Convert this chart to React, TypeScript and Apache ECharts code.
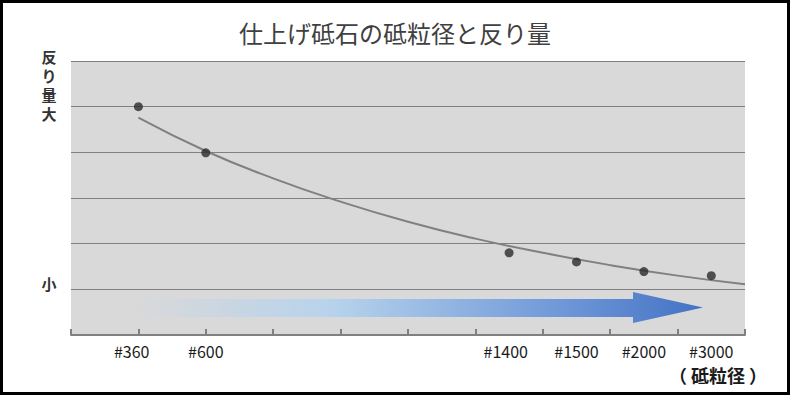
import React, { useEffect, useRef } from "react";
import * as echarts from "echarts";

const titleText = "仕上げ砥石の砥粒径と反り量";
const gritLabels = ["#360", "#600", "#1400", "#1500", "#2000", "#3000"];
const gritLabelPos = [0.9, 2, 6.45, 7.5, 8.5, 9.5];
const pointX = [1, 2, 6.5, 7.5, 8.5, 9.5];
const pointY = [5.0, 3.99, 1.8, 1.6, 1.39, 1.3];
const trendX = [1, 2, 3, 4, 5, 6, 7, 8, 9, 10];
const trendY = [4.76, 4.03, 3.43, 2.92, 2.48, 2.11, 1.8, 1.53, 1.3, 1.11];
const yHighChars = ["反", "り", "量", "大"];
const yLowLabel = "小";
const xAxisName = "（ 砥粒径 ）";

const FONT = "'Noto Sans CJK JP', 'Noto Sans', sans-serif";

export default function App() {
  const ref = useRef<HTMLDivElement>(null);
  useEffect(() => {
    document.body.style.margin = "0";
    const chart = echarts.init(ref.current!, null, { renderer: "svg" });
    const scatterData = pointX.map((x, i) => [x, pointY[i]]);
    const trendData = trendX.map((x, i) => [x, trendY[i]]);
    const charY = [56, 75, 94, 113];
    const leftTexts = yHighChars.map((c, i) => ({
      type: "text",
      x: 49,
      y: charY[i],
      style: {
        text: c,
        fontSize: 15,
        lineHeight: 16,
        fontWeight: "bold",
        fill: "#333333",
        align: "center",
        verticalAlign: "middle",
        fontFamily: FONT,
      },
    }));
    chart.setOption({
      animation: false,
      backgroundColor: "#ffffff",
      textStyle: { fontFamily: FONT },
      title: {
        text: titleText,
        left: "center",
        top: 15,
        textStyle: { fontSize: 24, fontWeight: "normal", color: "#404040", fontFamily: FONT },
      },
      grid: {
        left: 71,
        top: 61,
        width: 674,
        height: 274,
        show: true,
        backgroundColor: "#d9d9d9",
        borderWidth: 0,
      },
      xAxis: [
        {
          type: "value",
          min: 0,
          max: 10,
          interval: 1,
          axisLine: { show: true, lineStyle: { color: "#808080", width: 2 } },
          axisTick: { show: true, inside: true, length: 6, lineStyle: { color: "#808080", width: 2 } },
          axisLabel: { show: false },
          splitLine: { show: false },
        },
        {
          type: "value",
          position: "bottom",
          min: 0,
          max: 10,
          interval: 0.05,
          axisLine: { show: false },
          axisTick: { show: false },
          splitLine: { show: false },
          axisLabel: {
            show: true,
            interval: 0,
            margin: 8,
            fontSize: 16,
            color: "#1a1a1a",
            fontFamily: FONT,
            formatter: (v: number) => {
              const i = gritLabelPos.findIndex((p) => Math.abs(p - v) < 1e-6);
              return i >= 0 ? gritLabels[i] : "";
            },
          },
        },
      ],
      yAxis: {
        type: "value",
        min: 0,
        max: 6,
        interval: 1,
        axisLine: { show: false },
        axisTick: { show: false },
        axisLabel: { show: false },
        splitLine: { show: true, lineStyle: { color: "#808080", width: 1 } },
      },
      graphic: [
        {
          type: "polygon",
          silent: true,
          shape: {
            points: [
              [133, 299],
              [633, 299],
              [633, 292],
              [703, 307.5],
              [633, 323],
              [633, 317],
              [133, 317],
            ],
          },
          style: {
            fill: {
              type: "linear",
              x: 0,
              y: 0,
              x2: 1,
              y2: 0,
              colorStops: [
                { offset: 0, color: "#d9d9d9" },
                { offset: 0.35, color: "#b7d3ec" },
                { offset: 0.75, color: "#6f98d8" },
                { offset: 1, color: "#4472c4" },
              ],
            },
          },
          z: 1,
        },
        ...leftTexts,
        {
          type: "text",
          x: 49,
          y: 283,
          style: {
            text: yLowLabel,
            fontSize: 15,
            fontWeight: "bold",
            fill: "#333333",
            align: "center",
            verticalAlign: "middle",
            fontFamily: FONT,
          },
        },
        {
          type: "text",
          x: 718,
          y: 375,
          style: {
            text: xAxisName,
            fontSize: 18,
            fontWeight: "bold",
            fill: "#1a1a1a",
            align: "center",
            verticalAlign: "middle",
            fontFamily: FONT,
          },
        },
      ],
      series: [
        {
          type: "line",
          data: trendData,
          smooth: true,
          showSymbol: false,
          lineStyle: { color: "#808080", width: 2 },
          z: 3,
        },
        {
          type: "scatter",
          data: scatterData,
          symbolSize: 9,
          itemStyle: { color: "#2a2a2a" },
          z: 4,
        },
      ],
    });
    return () => chart.dispose();
  }, []);
  return (
    <div style={{ position: "absolute", left: 0, top: 0, width: 790, height: 395 }}>
      <div ref={ref} style={{ position: "absolute", left: 0, top: 0, width: 790, height: 395 }} />
      <div
        style={{
          position: "absolute",
          left: 0,
          top: 0,
          width: 790,
          height: 395,
          boxSizing: "border-box",
          border: "3px solid #000",
          pointerEvents: "none",
        }}
      />
    </div>
  );
}
